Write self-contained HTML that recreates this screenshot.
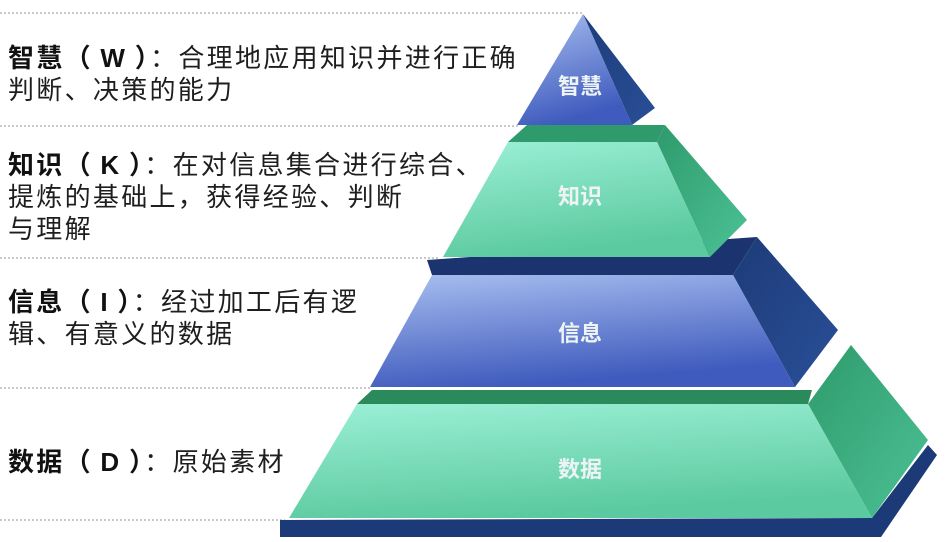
<!DOCTYPE html>
<html><head><meta charset="utf-8"><style>
html,body{margin:0;padding:0;background:#fff;}
body{width:951px;height:542px;position:relative;overflow:hidden;font-family:"Liberation Sans","Noto Sans CJK SC",sans-serif;}
.t{position:absolute;left:8px;font-size:26px;line-height:32px;color:#1e1e1e;letter-spacing:2.3px;white-space:nowrap;}
.t b{font-weight:bold;color:#111;}
</style></head><body>
<svg width="951" height="542" style="position:absolute;left:0;top:0">
<defs>
<linearGradient id="bl" x1="0" y1="0" x2="0.3" y2="1"><stop offset="0" stop-color="#a9bff0"/><stop offset="1" stop-color="#3f5bbd"/></linearGradient>
<linearGradient id="gr" x1="0" y1="0" x2="0.3" y2="1"><stop offset="0" stop-color="#9cf0d6"/><stop offset="1" stop-color="#5ccaa0"/></linearGradient>
<linearGradient id="bs" x1="0" y1="0" x2="1" y2="1"><stop offset="0" stop-color="#1d3b78"/><stop offset="1" stop-color="#2a4f98"/></linearGradient>
<linearGradient id="gs" x1="0" y1="0" x2="1" y2="1"><stop offset="0" stop-color="#2f9a6c"/><stop offset="1" stop-color="#4cc295"/></linearGradient>
</defs>
<g stroke="#b8b8b8" stroke-width="1.5" stroke-dasharray="2,2">
<line x1="0" y1="13" x2="583" y2="13"/>
<line x1="0" y1="126" x2="520" y2="126"/>
<line x1="0" y1="258" x2="440" y2="258"/>
<line x1="0" y1="388" x2="372" y2="388"/>
<line x1="0" y1="520" x2="285" y2="520"/>
</g>
<polygon points="928,445 937,455 881,537 280,537 280,520 872,518" fill="#1c3a78"/>
<polygon points="372,390 812,390 808,404 357,404" fill="#2a8a5c"/>
<polygon points="808,404 851,345 928,440 872,518" fill="url(#gs)"/>
<polygon points="357,404 808,404 872,518 289,518" fill="url(#gr)"/>
<polygon points="427,260 757,237 733,275 432,275" fill="#1b3470"/>
<polygon points="757,237 838,330 795,387 733,275" fill="url(#bs)"/>
<polygon points="432,275 733,275 795,387 370,387" fill="url(#bl)"/>
<polygon points="527,125 665,125 657,142 508,142" fill="#2f9a6c"/>
<polygon points="665,125 747,220 710,257 657,142" fill="url(#gs)"/>
<polygon points="508,142 657,142 710,257 443,257" fill="url(#gr)"/>
<polygon points="583,14 655,108 632,125" fill="url(#bs)"/>
<polygon points="583,14 632,125 517,125" fill="url(#bl)"/>
<g font-family="Liberation Sans,Noto Sans CJK SC,sans-serif" font-weight="bold" font-size="22" fill="#eef4f6" text-anchor="middle">
<text x="580" y="94">智慧</text>
<text x="580" y="204">知识</text>
<text x="580" y="341">信息</text>
<text x="580" y="477">数据</text>
</g>
</svg>
<div class="t" style="top:42px"><b>智慧（&#8201;W&#8201;）</b>：合理地应用知识并进行正确<br>判断、决策的能力</div>
<div class="t" style="top:149px"><b>知识（&#8201;K&#8201;）</b>：在对信息集合进行综合、<br>提炼的基础上，获得经验、判断<br>与理解</div>
<div class="t" style="top:286px"><b>信息（&#8201;I&#8201;）</b>：经过加工后有逻<br>辑、有意义的数据</div>
<div class="t" style="top:446px"><b>数据（&#8201;D&#8201;）</b>：原始素材</div>
</body></html>
